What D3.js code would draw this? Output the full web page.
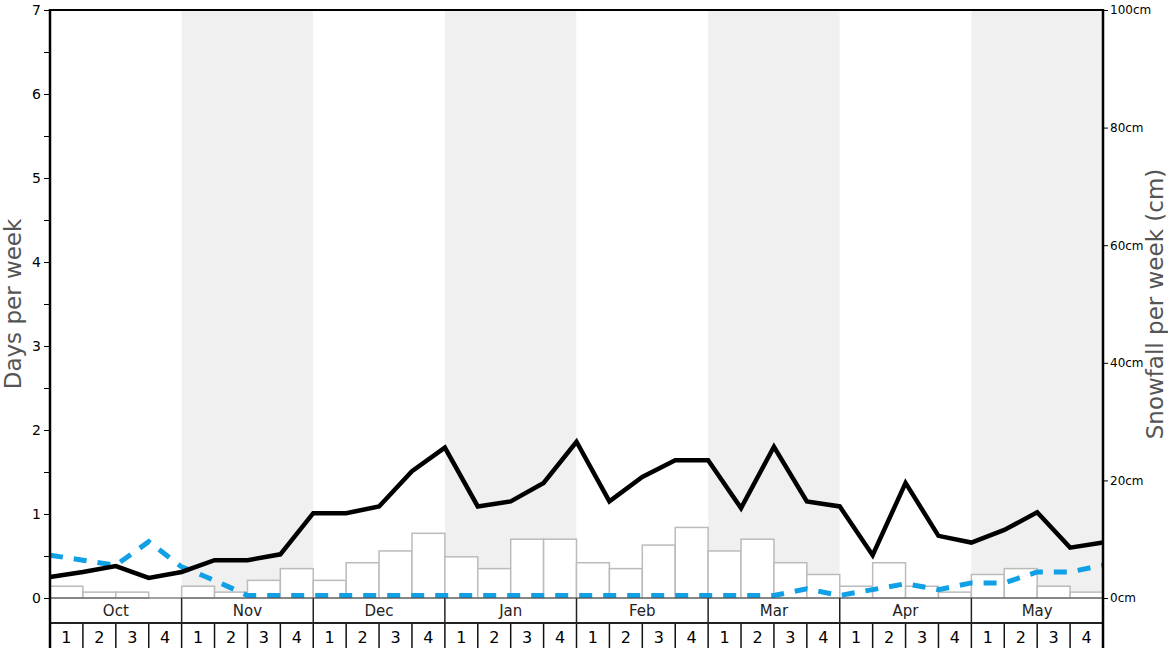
<!DOCTYPE html>
<html>
<head>
<meta charset="utf-8">
<script src="https://cdn.jsdelivr.net/npm/d3@7"></script>
<style>
body { margin: 0; background: #fff; }
text { font-family: "DejaVu Sans", sans-serif; }
</style>
</head>
<body>
<svg id="chart" width="1168" height="648"></svg>
<script>
var months = ["Oct", "Nov", "Dec", "Jan", "Feb", "Mar", "Apr", "May"];
var weeks = ["1", "2", "3", "4"];
// snowfall per week (cm), one per week
var snowfall = [2, 1, 1, 0, 2, 1, 3, 5, 3, 6, 8, 11, 7, 5, 10, 10,
                6, 5, 9, 12, 8, 10, 6, 4, 2, 6, 2, 1, 4, 5, 2, 1];
// days per week, at week boundaries
var snowDays = [0.25, 0.31, 0.38, 0.24, 0.31, 0.45, 0.45, 0.52, 1.01, 1.01, 1.09, 1.51, 1.79,
                1.09, 1.15, 1.37, 1.86, 1.15, 1.44, 1.64, 1.64, 1.07, 1.80, 1.15, 1.09,
                0.51, 1.37, 0.74, 0.66, 0.81, 1.02, 0.60, 0.66];
var rainDays = [0.51, 0.45, 0.39, 0.67, 0.37, 0.21, 0.03, 0.03, 0.03, 0.03, 0.03, 0.03, 0.03,
                0.03, 0.03, 0.03, 0.03, 0.03, 0.03, 0.03, 0.03, 0.03, 0.03, 0.11, 0.03,
                0.10, 0.17, 0.10, 0.18, 0.18, 0.31, 0.31, 0.39];
var leftTicks = [0, 1, 2, 3, 4, 5, 6, 7];
var rightTicks = [0, 20, 40, 60, 80, 100];

var svg = d3.select("#chart");
var pLeft = 50, pRight = 1103, pTop = 10, pBottom = 598;
var bandH = 25;
var nWeeks = months.length * weeks.length;

var x = d3.scaleLinear().domain([0, nWeeks]).range([pLeft, pRight]);
var y = d3.scaleLinear().domain([0, 7]).range([pBottom, pTop]);
var y2 = d3.scaleLinear().domain([0, 100]).range([pBottom, pTop]);

// alternating month shading
svg.append("g").selectAll("rect")
    .data(months)
    .enter().append("rect")
    .attr("x", function(d, i) { return x(i * 4); })
    .attr("y", pTop)
    .attr("width", x(4) - x(0))
    .attr("height", pBottom - pTop)
    .attr("fill", function(d, i) { return i % 2 ? "#f0f0f0" : "#fff"; });

// snowfall bars
svg.append("g").selectAll("rect")
    .data(snowfall)
    .enter().append("rect")
    .attr("x", function(d, i) { return x(i); })
    .attr("y", function(d) { return y2(d); })
    .attr("width", x(1) - x(0))
    .attr("height", function(d) { return pBottom - y2(d); })
    .attr("fill", "#fff")
    .attr("stroke", "#bbb")
    .attr("stroke-width", 1.5);

var line = d3.line()
    .x(function(d, i) { return x(i); })
    .y(function(d) { return y(d); });

svg.append("path")
    .datum(rainDays)
    .attr("d", line)
    .attr("fill", "none")
    .attr("stroke", "#0fa0e6")
    .attr("stroke-width", 5)
    .attr("stroke-dasharray", "13,11");

svg.append("path")
    .datum(snowDays)
    .attr("d", line)
    .attr("fill", "none")
    .attr("stroke", "#000")
    .attr("stroke-width", 4.5)
    .attr("stroke-linejoin", "miter");

// left axis
var leftAxis = d3.axisLeft(y)
    .tickValues(d3.range(0, 7.01, 0.5))
    .tickSize(6)
    .tickFormat(function(d) { return leftTicks.indexOf(d) >= 0 ? d : ""; });
var gl = svg.append("g")
    .attr("transform", "translate(" + pLeft + ",0)")
    .call(leftAxis);
gl.select(".domain").remove();
gl.selectAll("text").style("font-size", "14px").attr("fill", "#000");
gl.selectAll("line").attr("stroke", "#000");

// right axis
var rightAxis = d3.axisRight(y2)
    .tickValues(rightTicks)
    .tickSize(5)
    .tickFormat(function(d) { return d + "cm"; });
var gr = svg.append("g")
    .attr("transform", "translate(" + pRight + ",0)")
    .call(rightAxis);
gr.select(".domain").remove();
gr.selectAll("text").style("font-size", "12px").attr("fill", "#000").attr("x", 7);
gr.selectAll("line").attr("stroke", "#000");

// month band
var mb = svg.append("g");
mb.selectAll("line")
    .data(d3.range(months.length + 1))
    .enter().append("line")
    .attr("x1", function(d) { return x(d * 4); })
    .attr("x2", function(d) { return x(d * 4); })
    .attr("y1", pBottom)
    .attr("y2", pBottom + bandH)
    .attr("stroke", "#222")
    .attr("stroke-width", 1.5);
mb.selectAll("text")
    .data(months)
    .enter().append("text")
    .attr("x", function(d, i) { return x(i * 4 + 2); })
    .attr("y", pBottom + 18)
    .attr("text-anchor", "middle")
    .style("font-size", "15px")
    .attr("fill", "#222")
    .text(function(d) { return d; });

// week band
var wb = svg.append("g");
wb.selectAll("line")
    .data(d3.range(nWeeks + 1))
    .enter().append("line")
    .attr("x1", function(d) { return x(d); })
    .attr("x2", function(d) { return x(d); })
    .attr("y1", pBottom + bandH)
    .attr("y2", pBottom + 2 * bandH)
    .attr("stroke", "#111")
    .attr("stroke-width", 1.5);
wb.selectAll("text")
    .data(d3.range(nWeeks))
    .enter().append("text")
    .attr("x", function(d) { return x(d + 0.5); })
    .attr("y", pBottom + bandH + 20)
    .attr("text-anchor", "middle")
    .style("font-size", "16px")
    .attr("fill", "#000")
    .text(function(d) { return weeks[d % 4]; });

// frame lines
svg.append("line").attr("x1", pLeft).attr("x2", pRight).attr("y1", pTop).attr("y2", pTop)
    .attr("stroke", "#000").attr("stroke-width", 2);
svg.append("line").attr("x1", pLeft).attr("x2", pRight).attr("y1", pBottom).attr("y2", pBottom)
    .attr("stroke", "#444").attr("stroke-width", 1);
svg.append("line").attr("x1", pLeft).attr("x2", pRight).attr("y1", pBottom + bandH).attr("y2", pBottom + bandH)
    .attr("stroke", "#222").attr("stroke-width", 2);
svg.append("line").attr("x1", pLeft).attr("x2", pLeft).attr("y1", pTop - 1).attr("y2", 648)
    .attr("stroke", "#000").attr("stroke-width", 2.5);
svg.append("line").attr("x1", pRight).attr("x2", pRight).attr("y1", pTop - 1).attr("y2", 648)
    .attr("stroke", "#000").attr("stroke-width", 2.5);

// axis titles
svg.append("text")
    .attr("transform", "translate(21," + (pTop + pBottom) / 2 + ") rotate(-90)")
    .attr("text-anchor", "middle")
    .style("font-size", "23px")
    .attr("fill", "#555")
    .text("Days per week");
svg.append("text")
    .attr("transform", "translate(1163," + (pTop + pBottom) / 2 + ") rotate(-90)")
    .attr("text-anchor", "middle")
    .style("font-size", "23px")
    .attr("fill", "#555")
    .text("Snowfall per week (cm)");
</script>
</body>
</html>
